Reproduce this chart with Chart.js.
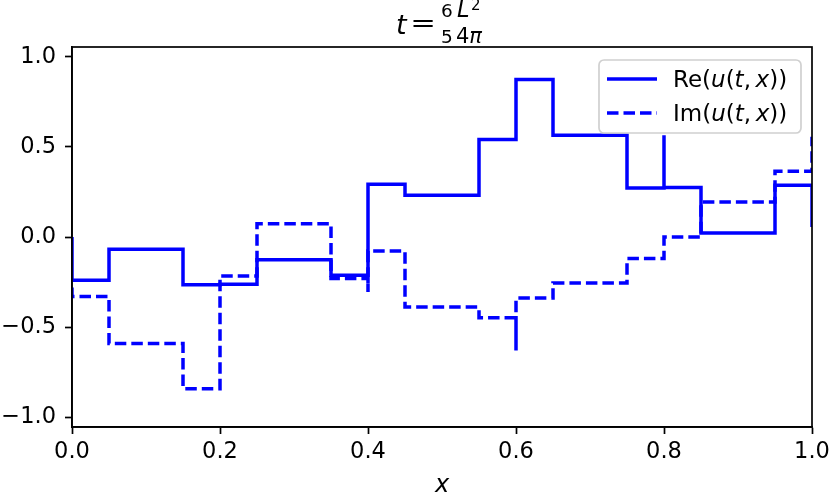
<!DOCTYPE html>
<html>
<head>
<meta charset="utf-8">
<script src="https://cdn.jsdelivr.net/npm/chart.js@4/dist/chart.umd.min.js"></script>
<style>
  html, body { margin: 0; padding: 0; background: #fff; }
  #wrap { width: 830px; height: 498px; }
</style>
</head>
<body>
<div id="wrap"><canvas id="chart" width="830" height="498"></canvas></div>
<script>
// step edges along x, and the level of each field on every step
const edges = [0, 0.05, 0.15, 0.2, 0.25, 0.35, 0.4, 0.45, 0.55, 0.6, 0.65, 0.75, 0.8, 0.85, 0.95, 1.0];
const reLevels = [-0.24, -0.068, -0.265, -0.262, -0.126, -0.213, 0.293, 0.232, 0.541, 0.874, 0.565, 0.272, 0.275, 0.022, 0.287];
const imLevels = [-0.33, -0.592, -0.842, -0.217, 0.074, -0.231, -0.078, -0.389, -0.448, -0.339, -0.256, -0.12, 0.0, 0.194, 0.365];
// spikes sitting on a jump (x, value)
const reSpikes = [[0, 0.0], [0.8, 0.565], [1.0, 0.056]];
const imSpikes = [[0, -0.28], [0.4, -0.305], [0.6, -0.63], [1.0, 0.556]];
const xTicks = [0, 0.2, 0.4, 0.6, 0.8, 1.0];
const yTicks = [-1.0, -0.5, 0.0, 0.5, 1.0];

const FONT = "'DejaVu Sans', sans-serif";
const BLUE = "#0000ff";
const LW = 3.5;

function buildSteps(levels, spikes) {
  const pts = [];
  const spikeAt = x => spikes.find(s => Math.abs(s[0] - x) < 1e-9);
  for (let i = 0; i < levels.length; i++) {
    const s = spikeAt(edges[i]);
    if (s) pts.push({ x: s[0], y: s[1] });
    pts.push({ x: edges[i], y: levels[i] });
    pts.push({ x: edges[i + 1], y: levels[i] });
  }
  const last = spikeAt(edges[edges.length - 1]);
  if (last) pts.push({ x: last[0], y: last[1] });
  return pts;
}

// draws mixed upright / italic pieces left to right
function drawPieces(ctx, pieces, x, y, size) {
  for (const [txt, italic] of pieces) {
    ctx.font = (italic ? "italic " : "") + size + "px " + FONT;
    ctx.fillText(txt, x, y);
    x += ctx.measureText(txt).width;
  }
  return x;
}

const overlay = {
  id: "overlay",
  afterDraw(chart) {
    const { ctx, chartArea: a } = chart;
    ctx.save();
    ctx.fillStyle = "#000";
    ctx.strokeStyle = "#000";

    // frame
    ctx.lineWidth = 1.7;
    ctx.strokeRect(a.left, a.top, a.right - a.left, a.bottom - a.top);

    // title  t = 6/5 L^2/4pi
    ctx.textBaseline = "alphabetic";
    ctx.textAlign = "left";
    ctx.font = "italic 27px " + FONT;
    ctx.fillText("t", 396, 34);
    // '=' is wide and flat in the mathtext title
    ctx.font = "23px " + FONT;
    const m = ctx.measureText("=");
    const inkW = m.actualBoundingBoxLeft + m.actualBoundingBoxRight;
    const sx = 20 / inkW;
    ctx.save();
    ctx.translate(413, 27 - m.actualBoundingBoxDescent);
    ctx.scale(sx, 1);
    ctx.fillText("=", m.actualBoundingBoxLeft, 0);
    ctx.restore();
    ctx.font = "18.5px " + FONT;
    ctx.fillText("6", 441, 17);
    ctx.fillText("5", 441, 43);
    ctx.font = "italic 22.5px " + FONT;
    ctx.fillText("L", 457, 17);
    ctx.font = "15px " + FONT;
    ctx.fillText("2", 471, 10);
    drawPieces(ctx, [["4", false], ["\u03c0", true]], 456, 43, 21);

    // x axis label
    ctx.textAlign = "center";
    ctx.font = "italic 24px " + FONT;
    ctx.fillText("x", 442, 492);

    // legend
    const lx = 599, ly = 60, lw = 202, lh = 73, r = 5;
    ctx.beginPath();
    ctx.roundRect(lx, ly, lw, lh, r);
    ctx.fillStyle = "rgba(255,255,255,0.8)";
    ctx.fill();
    ctx.strokeStyle = "#d0d0d0";
    ctx.lineWidth = 1.7;
    ctx.stroke();

    ctx.strokeStyle = BLUE;
    ctx.lineWidth = LW;
    ctx.beginPath();
    ctx.moveTo(607, 79); ctx.lineTo(657, 79);
    ctx.stroke();
    ctx.setLineDash([11.5, 5]);
    ctx.beginPath();
    ctx.moveTo(607, 113); ctx.lineTo(657, 113);
    ctx.stroke();
    ctx.setLineDash([]);

    ctx.fillStyle = "#000";
    ctx.textAlign = "left";
    ctx.textBaseline = "alphabetic";
    const tail = [["(", false], ["u", true], ["(", false], ["t", true], [",\u2009", false], ["x", true], ["))", false]];
    drawPieces(ctx, [["Re", false]].concat(tail), 673, 87, 23);
    drawPieces(ctx, [["Im", false]].concat(tail), 673, 121, 23);

    ctx.restore();
  }
};

new Chart(document.getElementById("chart"), {
  type: "line",
  data: {
    datasets: [
      {
        label: "Re(u(t,x))",
        data: buildSteps(reLevels, reSpikes),
        borderColor: BLUE,
        borderWidth: LW,
        pointRadius: 0,
        tension: 0,
        fill: false
      },
      {
        label: "Im(u(t,x))",
        data: buildSteps(imLevels, imSpikes),
        borderColor: BLUE,
        borderWidth: LW,
        borderDash: [11.5, 5],
        pointRadius: 0,
        tension: 0,
        fill: false
      }
    ]
  },
  options: {
    responsive: false,
    animation: false,
    devicePixelRatio: 1,
    layout: { padding: { top: 47, right: 18, left: 0, bottom: 0 } },
    plugins: {
      legend: { display: false },
      tooltip: { enabled: false },
      title: { display: false }
    },
    scales: {
      x: {
        type: "linear",
        min: 0,
        max: 1,
        afterFit: s => { s.height = 71; s.paddingLeft = 0; s.paddingRight = 0; },
        afterBuildTicks: s => { s.ticks = xTicks.map(v => ({ value: v })); },
        grid: { drawOnChartArea: false, tickLength: 7, tickColor: "#000", tickWidth: 1.7 },
        border: { color: "#000", width: 1.7 },
        ticks: {
          color: "#000",
          padding: 5,
          maxRotation: 0,
          font: { family: FONT, size: 22.5 },
          callback: v => v.toFixed(1)
        }
      },
      y: {
        type: "linear",
        min: -1.055,
        max: 1.055,
        afterFit: s => { s.width = 72; s.paddingTop = 0; s.paddingBottom = 0; },
        afterBuildTicks: s => { s.ticks = yTicks.map(v => ({ value: v })); },
        grid: { drawOnChartArea: false, tickLength: 7, tickColor: "#000", tickWidth: 1.7 },
        border: { color: "#000", width: 1.7 },
        ticks: {
          color: "#000",
          padding: 9,
          font: { family: FONT, size: 22.5 },
          callback: v => v.toFixed(1).replace("-", "\u2212")
        }
      }
    }
  },
  plugins: [overlay]
});
</script>
</body>
</html>
